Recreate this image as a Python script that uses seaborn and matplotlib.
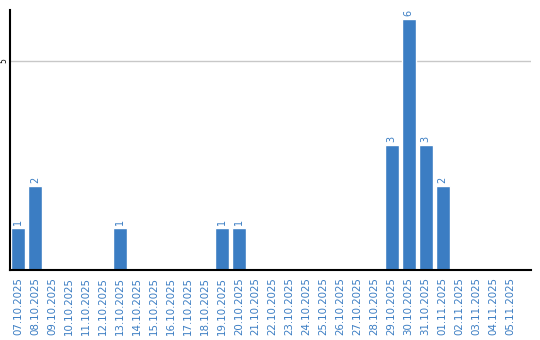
import matplotlib
matplotlib.use("Agg")
import matplotlib.pyplot as plt
import seaborn as sns
import pandas as pd

dates = ["07.10.2025", "08.10.2025", "09.10.2025", "10.10.2025", "11.10.2025",
         "12.10.2025", "13.10.2025", "14.10.2025", "15.10.2025", "16.10.2025",
         "17.10.2025", "18.10.2025", "19.10.2025", "20.10.2025", "21.10.2025",
         "22.10.2025", "23.10.2025", "24.10.2025", "25.10.2025", "26.10.2025",
         "27.10.2025", "28.10.2025", "29.10.2025", "30.10.2025", "31.10.2025",
         "01.11.2025", "02.11.2025", "03.11.2025", "04.11.2025", "05.11.2025"]
counts = [1, 2, 0, 0, 0, 0, 1, 0, 0, 0, 0, 0, 1, 1, 0, 0, 0, 0, 0, 0,
          0, 0, 3, 6, 3, 2, 0, 0, 0, 0]
y_ticks = [5]

sns.set_theme(style="white")
plt.rcParams['font.family'] = ['DejaVu Sans']

blue = "#3b7dc3"
df = pd.DataFrame({"date": dates, "count": counts})

fig = plt.figure(figsize=(5.4, 3.4), dpi=100)
ax = fig.add_axes([10/540, 70/340, 521/540, 260/340])
sns.barplot(data=df, x="date", y="count", color=blue, saturation=1,
            width=0.82, ax=ax, order=dates)

for p, v in zip(ax.patches, counts):
    if v > 0:
        ax.text(p.get_x() + p.get_width()/2, v + 0.07, str(v), rotation=90,
                ha="center", va="bottom", color=blue, fontsize=7)

ax.set_xlim(-0.47, 30.2)
ax.set_ylim(0, 6.22)
ax.set_yticks(y_ticks)
ax.set_yticklabels([str(t) for t in y_ticks], rotation=90, va="center",
                   fontsize=5.5, color="black")
ax.yaxis.grid(True, color="#c8c8c8", linewidth=1)
ax.set_axisbelow(True)
ax.tick_params(axis="x", labelrotation=90, labelsize=7.4, labelcolor=blue,
               length=0, pad=5)
ax.tick_params(axis="y", length=0, pad=1)
ax.set_xlabel("")
ax.set_ylabel("")
for s in ["top", "right"]:
    ax.spines[s].set_visible(False)
for s in ["left", "bottom"]:
    ax.spines[s].set_color("black")
    ax.spines[s].set_linewidth(1.5)

fig.savefig("out.png", dpi=100)
